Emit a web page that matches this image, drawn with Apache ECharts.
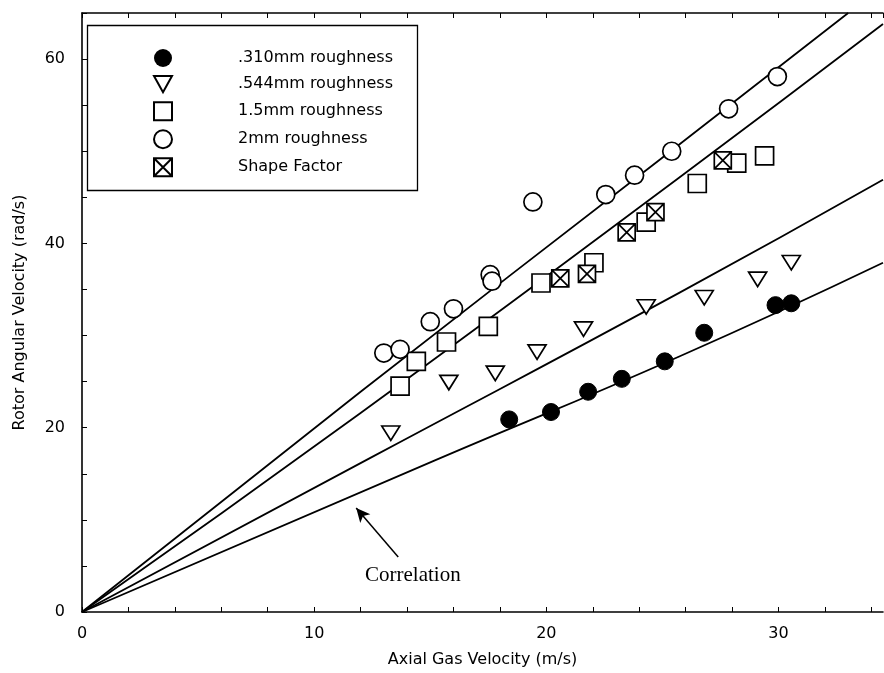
<!DOCTYPE html>
<html>
<head>
<meta charset="utf-8">
<script src="https://cdn.jsdelivr.net/npm/echarts@6/dist/echarts.min.js"></script>
<style>
  html, body { margin: 0; padding: 0; background: #fff; }
  #chart { width: 884px; height: 673px; }
</style>
</head>
<body>
<div id="chart"></div>
<script>
// measured points, [axial gas velocity m/s, rotor angular velocity rad/s]
const rough310 = [[18.4, 20.9], [20.2, 21.7], [21.8, 23.9], [23.25, 25.3], [25.1, 27.2],
  [26.8, 30.3], [29.87, 33.3], [30.55, 33.5]];
const rough544 = [[13.3, 19.4], [15.8, 24.9], [17.8, 25.9], [19.6, 28.2], [21.6, 30.7],
  [24.3, 33.1], [26.8, 34.1], [29.1, 36.1], [30.55, 37.9]];
const rough15 = [[13.7, 24.5], [14.4, 27.2], [15.7, 29.3], [17.5, 31.0], [19.77, 35.7],
  [22.05, 37.9], [24.3, 42.3], [26.5, 46.5], [28.2, 48.7], [29.4, 49.5]];
const rough2 = [[13.0, 28.1], [13.7, 28.5], [15.0, 31.5], [16.0, 32.9], [17.58, 36.6],
  [17.66, 35.9], [19.42, 44.5], [22.56, 45.3], [23.8, 47.4], [25.4, 50.0], [27.85, 54.6], [29.95, 58.1]];
const shapeFactor = [[20.6, 36.2], [21.75, 36.7], [23.46, 41.2], [24.7, 43.4], [27.6, 49.0]];

// correlation curves
const corr2 = [[0, 0], [12, 23.9], [24.84, 49.0], [33, 65]];
const corr15 = [[0, 0], [12, 21.6], [25.7, 47.1], [34.5, 63.8]];
const corr544 = [[0, 0], [12.4, 16.7], [25.7, 34.6], [34.5, 46.9]];
const corr310 = [[0, 0], [15.25, 16.5], [25.7, 27.7], [34.5, 37.9]];

const names = ['.310mm roughness', '.544mm roughness', '1.5mm roughness', '2mm roughness', 'Shape Factor'];

const triDown = 'path://M0,0L20,0L10,18Z';
const boxX = 'path://M0,0L20,0L20,20L0,20Z M0,0L20,20 M20,0L0,20';

const chart = echarts.init(document.getElementById('chart'));

const openStyle = { color: '#fff', borderColor: '#000', borderWidth: 1.7, opacity: 1 };
const lineStyle = { color: '#000', width: 1.8 };

function corrSeries(data, extra) {
  return Object.assign({
    type: 'line', data: data, smooth: true, showSymbol: false,
    lineStyle: lineStyle, silent: true, z: 1
  }, extra || {});
}

chart.setOption({
  animation: false,
  textStyle: { fontFamily: 'DejaVu Sans', color: '#000' },
  grid: { left: 82, right: 1, top: 13, bottom: 61 },
  legend: {
    orient: 'vertical', left: 148, top: 44,
    itemWidth: 18, itemHeight: 18, itemGap: 8,
    data: names,
    textStyle: { fontFamily: 'DejaVu Sans', fontSize: 16, color: '#000', lineHeight: 18, padding: [0, 0, 0, 61] }
  },
  xAxis: [{
    type: 'value', min: 0, max: 34.5, interval: 2,
    name: 'Axial Gas Velocity (m/s)', nameLocation: 'middle', nameGap: 40,
    nameTextStyle: { fontSize: 16, color: '#000' },
    axisLine: { lineStyle: { color: '#000', width: 1.6 } },
    axisTick: { inside: true, length: 5, lineStyle: { color: '#000' } },
    axisLabel: { fontSize: 16, color: '#000', margin: 14, showMaxLabel: false,
      formatter: v => (v % 10 === 0 ? String(v) : '') },
    splitLine: { show: false }
  }, {
    type: 'value', position: 'top', min: 0, max: 34.5, interval: 2,
    axisLine: { show: true, lineStyle: { color: '#000', width: 1.5 } },
    axisTick: { inside: true, length: 5, lineStyle: { color: '#000' } },
    axisLabel: { show: false }, splitLine: { show: false }
  }],
  yAxis: {
    type: 'value', min: 0, max: 65, interval: 5,
    name: 'Rotor Angular Velocity (rad/s)', nameLocation: 'middle', nameGap: 54,
    nameTextStyle: { fontSize: 16, color: '#000' },
    axisLine: { show: true, lineStyle: { color: '#000', width: 1.6 } },
    axisTick: { inside: true, length: 5, lineStyle: { color: '#000' } },
    axisLabel: { fontSize: 16, color: '#000', margin: 17,
      formatter: v => (v % 20 === 0 ? String(v) : '') },
    splitLine: { show: false }
  },
  graphic: [
    { type: 'rect', left: 85, top: 23, shape: { width: 330, height: 165 },
      style: { fill: 'none', stroke: '#000', lineWidth: 1.3 }, z: 0 },
    { type: 'text', left: 365, top: 565,
      style: { text: 'Correlation', font: '21px "Liberation Serif"', fill: '#000' } }
  ],
  series: [
    corrSeries(corr2),
    corrSeries(corr15),
    corrSeries(corr544),
    corrSeries(corr310, {
      markLine: {
        silent: true, symbol: ['arrow', 'none'], symbolSize: [10, 14],
        label: { show: false },
        lineStyle: { color: '#000', width: 1.5, type: 'solid' },
        data: [[{ coord: [11.81, 11.28] }, { coord: [13.62, 5.97] }]]
      }
    }),
    { name: names[0], type: 'scatter', data: rough310, symbol: 'circle', symbolSize: 17,
      itemStyle: { color: '#000', borderColor: '#000', opacity: 1 }, z: 3 },
    { name: names[1], type: 'scatter', data: rough544, symbol: triDown, symbolSize: [18, 16],
      symbolKeepAspect: true, itemStyle: openStyle, z: 3 },
    { name: names[2], type: 'scatter', data: rough15, symbol: 'rect', symbolSize: 18,
      itemStyle: openStyle, z: 3 },
    { name: names[3], type: 'scatter', data: rough2, symbol: 'circle', symbolSize: 18,
      itemStyle: openStyle, z: 3 },
    { name: names[4], type: 'scatter', data: shapeFactor, symbol: boxX, symbolSize: 17,
      symbolKeepAspect: true, itemStyle: openStyle, z: 4 }
  ]
});
</script>
</body>
</html>
